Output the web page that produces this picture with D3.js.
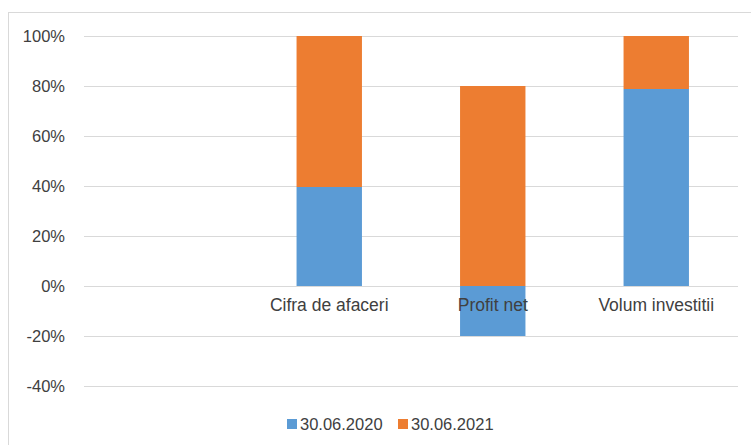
<!DOCTYPE html>
<html>
<head>
<meta charset="utf-8">
<script src="https://cdn.jsdelivr.net/npm/d3@7"></script>
<style>
  body { margin: 0; background: #fff; }
  text { font-family: "Liberation Sans Narrow", "Liberation Sans", Arial, sans-serif; fill: #404040; }
</style>
</head>
<body>
<div id="chart"></div>
<script>
// chart data
const categories = ['', 'Cifra de afaceri', 'Profit net', 'Volum investitii'];
const seriesNames = ['30.06.2020', '30.06.2021'];
const values2020 = [0, 39.6, -20, 78.8];
const values2021 = [0, 60.4, 80, 21.2];
const yTicks = [-40, -20, 0, 20, 40, 60, 80, 100];
const colors = ['#5B9BD5', '#ED7D31'];

const width = 751, height = 445;
const margin = { top: 36, right: 13, bottom: 59, left: 84 };

const svg = d3.select('#chart')
    .append('svg')
    .attr('width', width)
    .attr('height', height);

// outer frame
svg.append('rect')
    .attr('x', 8.5).attr('y', 12.5)
    .attr('width', 760).attr('height', 460)
    .attr('fill', 'none')
    .attr('stroke', '#D9D9D9');

const x = d3.scaleBand()
    .domain(categories)
    .range([margin.left, width - margin.right])
    .paddingInner(0.6)
    .paddingOuter(0.3);

const y = d3.scaleLinear()
    .domain([-40, 100])
    .range([height - margin.bottom, margin.top]);

// gridlines
svg.append('g')
    .selectAll('line')
    .data(yTicks)
    .enter()
    .append('line')
    .attr('x1', margin.left)
    .attr('x2', width - margin.right)
    .attr('y1', d => Math.round(y(d)) + 0.5)
    .attr('y2', d => Math.round(y(d)) + 0.5)
    .attr('stroke', '#D9D9D9')
    .attr('stroke-width', 1);

// y tick labels
svg.append('g')
    .selectAll('text')
    .data(yTicks)
    .enter()
    .append('text')
    .attr('x', 65)
    .attr('y', d => y(d))
    .attr('dy', '0.35em')
    .attr('text-anchor', 'end')
    .style('font-size', '16.5px')
    .text(d => d + '%');

// stacked bars
const table = categories.map((c, i) => ({ cat: c, s0: values2020[i], s1: values2021[i] }));
const stack = d3.stack()
    .keys(['s0', 's1'])
    .offset(d3.stackOffsetDiverging);
const layers = stack(table);

svg.append('g')
    .selectAll('g')
    .data(layers)
    .enter()
    .append('g')
    .attr('fill', (d, i) => colors[i])
    .selectAll('rect')
    .data(d => d.filter(p => p.data.cat !== ''))
    .enter()
    .append('rect')
    .attr('x', d => x(d.data.cat))
    .attr('width', x.bandwidth())
    .attr('y', d => y(Math.max(d[0], d[1])))
    .attr('height', d => Math.abs(y(d[0]) - y(d[1])));

// category labels (drawn next to the zero line)
svg.append('g')
    .selectAll('text')
    .data(categories)
    .enter()
    .append('text')
    .attr('x', d => x(d) + x.bandwidth() / 2)
    .attr('y', y(0) + 25)
    .attr('text-anchor', 'middle')
    .style('font-size', '17.5px')
    .text(d => d);

// legend
const legend = svg.append('g')
    .attr('transform', 'translate(287,419)');
const item = legend.selectAll('g')
    .data(seriesNames)
    .enter()
    .append('g')
    .attr('transform', (d, i) => `translate(${i * 111},0)`);
item.append('rect')
    .attr('width', 10).attr('height', 10)
    .attr('fill', (d, i) => colors[i]);
item.append('text')
    .attr('x', 13)
    .attr('y', 5)
    .attr('dy', '0.35em')
    .style('font-size', '16.5px')
    .text(d => d);
</script>
</body>
</html>
